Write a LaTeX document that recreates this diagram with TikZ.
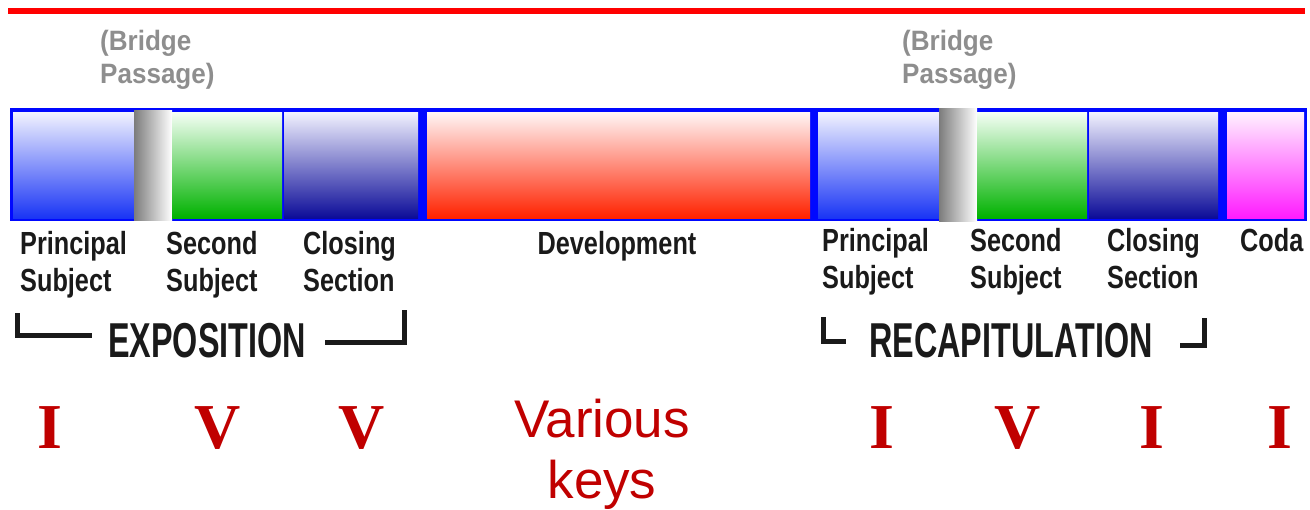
\documentclass[tikz,border=0pt]{standalone}
\usepackage{fontspec}
\usepackage{xcolor}
\usepackage{tikz}
\setmainfont{Liberation Sans}
\newfontfamily\labelfont[FakeStretch=0.79]{Liberation Sans}
\newfontfamily\bridgefont[FakeStretch=0.93]{Liberation Sans}
\newfontfamily\partfont[FakeStretch=0.66]{Liberation Sans}
\newfontfamily\keyfont{Liberation Serif}

\definecolor{keyred}{HTML}{C00000}
\definecolor{barblue}{HTML}{0008FF}
\definecolor{subjtop}{HTML}{F2F3FF}
\definecolor{subjbot}{HTML}{1A35F5}
\definecolor{closetop}{HTML}{F2F2FF}
\definecolor{closebot}{HTML}{0C0C98}
\definecolor{sectop}{HTML}{F6FFF6}
\definecolor{secbot}{HTML}{00B200}
\definecolor{devtop}{HTML}{FFF6F6}
\definecolor{devbot}{HTML}{FF2200}
\definecolor{codatop}{HTML}{FFF2FF}
\definecolor{codabot}{HTML}{FF1CFF}
\definecolor{bridgegray}{HTML}{7C7C7C}
\definecolor{bridgetext}{HTML}{8E8E8E}
\definecolor{labeltext}{HTML}{1A1A1A}

\begin{document}
\begin{tikzpicture}[x=1pt,y=-1pt,
    lbl/.style={anchor=north west,inner sep=0pt,align=left,text=labeltext,
      font=\labelfont\bfseries\fontsize{32}{37}\selectfont},
    bridgelbl/.style={anchor=north west,inner sep=0pt,align=left,text=bridgetext,
      font=\bridgefont\bfseries\fontsize{28}{33}\selectfont},
    partlbl/.style={anchor=base,inner sep=0pt,text=labeltext,
      font=\partfont\bfseries\fontsize{49}{55}\selectfont},
    keylbl/.style={anchor=base,inner sep=0pt,text=keyred,
      font=\keyfont\bfseries\fontsize{64}{70}\selectfont},
    bracket/.style={draw=labeltext,line width=5pt,line join=miter}]

    \useasboundingbox (0,0) rectangle (1310,509);

    \draw[red,line width=6pt] (8,10.5) -- (1305,10.5);

    % the bar
    \fill[barblue] (10,108) rectangle (1307,221);
    \shade[top color=subjtop,bottom color=subjbot] (13,112) rectangle (134,218);
    \shade[left color=bridgegray,right color=white] (134,110) rectangle (172,220);
    \shade[top color=sectop,bottom color=secbot] (172,112) rectangle (282,218);
    \shade[top color=closetop,bottom color=closebot] (284,112) rectangle (418,218);
    \shade[top color=devtop,bottom color=devbot] (427,112) rectangle (810,218);
    \shade[top color=subjtop,bottom color=subjbot] (818,112) rectangle (939,218);
    \shade[left color=bridgegray,right color=white] (939,108) rectangle (977,221);
    \shade[top color=sectop,bottom color=secbot] (977,112) rectangle (1087,218);
    \shade[top color=closetop,bottom color=closebot] (1089,112) rectangle (1218,218);
    \shade[top color=codatop,bottom color=codabot] (1227,112) rectangle (1304,218);

    \node[bridgelbl] (bridge1) at (100,30) {(Bridge\\Passage)};
    \node[bridgelbl] (bridge2) at (902,30) {(Bridge\\Passage)};

    \node[lbl] (prin1)  at (20,231)   {Principal\\Subject};
    \node[lbl] (sec1)   at (166,231)  {Second\\Subject};
    \node[lbl] (close1) at (303,231)  {Closing\\Section};
    \node[lbl,anchor=north] (dev) at (617,231) {Development};
    \node[lbl] (prin2)  at (822,228)  {Principal\\Subject};
    \node[lbl] (sec2)   at (970,228)  {Second\\Subject};
    \node[lbl] (close2) at (1107,228) {Closing\\Section};
    \node[lbl] (coda)   at (1240,228) {Coda};

    \node[partlbl] (expo)  at (207,357)  {EXPOSITION};
    \node[partlbl] (recap) at (1011,357) {RECAPITULATION};
    \draw[bracket] (17,313) -- (17,335) -- (92,335);
    \draw[bracket] (325,342) -- (404,342) -- (404,310);
    \draw[bracket] (823,317) -- (823,341) -- (846,341);
    \draw[bracket] (1180,345) -- (1204,345) -- (1204,318);

    % keys
    \node[keylbl] (key1) at (50,448)   {I};
    \node[keylbl] (key2) at (218,448)  {V};
    \node[keylbl] (key3) at (362,448)  {V};
    \node[anchor=north,inner sep=0pt,align=center,text=keyred,
      font=\fontsize{53}{61}\selectfont] (key4) at (602,398.5) {Various\\keys};
    \node[keylbl] (key5) at (882,448)  {I};
    \node[keylbl] (key6) at (1018,448) {V};
    \node[keylbl] (key7) at (1152,448) {I};
    \node[keylbl] (key8) at (1280,448) {I};
\end{tikzpicture}
\end{document}
